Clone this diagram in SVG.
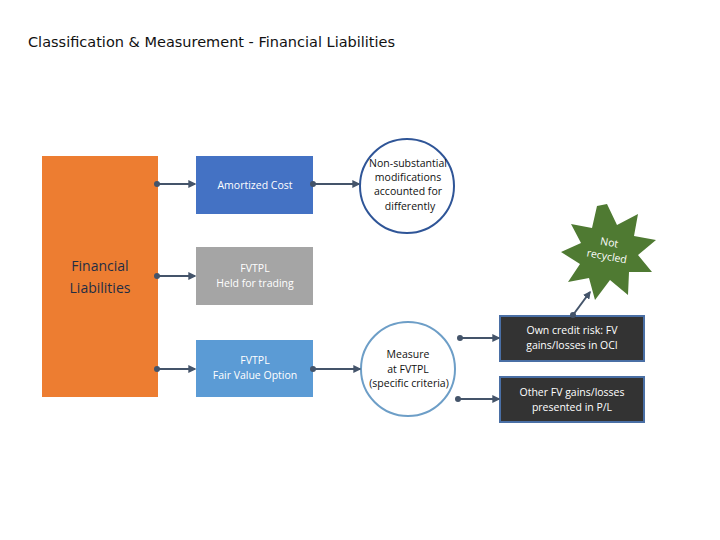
<svg xmlns="http://www.w3.org/2000/svg" width="720" height="540" viewBox="0 0 720 540">
<style>
text{font-family:"Open Sans","DejaVu Sans",sans-serif;font-size:10.5px;text-anchor:middle}
.w{fill:#fff}.k{fill:#111}
.c{stroke:#44546a;stroke-width:2;fill:none;marker-start:url(#dot);marker-end:url(#ar)}
</style>
<defs>
<marker id="dot" viewBox="0 0 6 6" refX="3" refY="3" markerWidth="3" markerHeight="3"><circle cx="3" cy="3" r="3" fill="#44546a"/></marker>
<marker id="ar" viewBox="0 0 6 6" refX="5" refY="3" markerWidth="4" markerHeight="4" orient="auto"><path d="M0,0L6,3L0,6z" fill="#44546a"/></marker>
</defs>
<rect width="720" height="540" fill="#fff"/>
<text x="28" y="47" style="text-anchor:start;font-family:'DejaVu Sans',sans-serif;font-size:14.5px" fill="#111">Classification &amp; Measurement - Financial Liabilities</text>
<g id="fl"><rect x="42" y="156" width="116" height="241" fill="#ed7d31"/><text x="100" y="271" style="font-size:14px" fill="#1f2d44">Financial</text><text x="100" y="293" style="font-size:14px" fill="#1f2d44">Liabilities</text></g>
<g id="ac"><rect x="196" y="156" width="117" height="58" fill="#4472c4"/><text x="255" y="189" class="w">Amortized Cost</text></g>
<g id="hft"><rect x="196" y="247" width="117" height="58" fill="#a5a5a5"/><text x="255" y="272" class="w">FVTPL</text><text x="255" y="287" class="w">Held for trading</text></g>
<g id="fvo"><rect x="196" y="340" width="117" height="57" fill="#5b9bd5"/><text x="255" y="364" class="w">FVTPL</text><text x="255" y="379" class="w">Fair Value Option</text></g>
<g id="c1"><circle cx="407" cy="186" r="47" fill="#fff" stroke="#2f5597" stroke-width="2"/><text x="408" y="167" class="k">Non-substantial</text><text x="408" y="181" class="k">modifications</text><text x="408" y="195" class="k">accounted for</text><text x="410" y="210" class="k">differently</text></g>
<g id="c2"><circle cx="408" cy="369" r="47" fill="#fff" stroke="#6d9ec7" stroke-width="2"/><text x="408" y="358" class="k">Measure</text><text x="408" y="373" class="k">at FVTPL</text><text x="409" y="387" class="k">(specific criteria)</text></g>
<g id="oci"><rect x="500" y="316" width="144" height="45" fill="#333" stroke="#4a6fa5" stroke-width="2"/><text x="572" y="334" class="w">Own credit risk: FV</text><text x="572" y="349" class="w">gains/losses in OCI</text></g>
<g id="pl"><rect x="500" y="377" width="144" height="45" fill="#333" stroke="#4a6fa5" stroke-width="2"/><text x="572" y="396" class="w">Other FV gains/losses</text><text x="572" y="411" class="w">presented in P/L</text></g>
<g id="star"><polygon fill="#4f7a32" points="607,204 617,225 638,214 634,236 656,240 638,255 652,272 629,272 628,295 610,280 595,300 589,278 568,282 580,264 561,252 581,243 571,224 592,228 597,206"/><text transform="translate(608,250) rotate(10)" class="w" style="font-size:10.5px"><tspan x="0" y="-4">Not</tspan><tspan x="0" y="10">recycled</tspan></text></g>
<g id="connectors">
<line class="c" x1="157" y1="184" x2="195" y2="184"/>
<line class="c" x1="157" y1="276" x2="195" y2="276"/>
<line class="c" x1="157" y1="369" x2="195" y2="369"/>
<line class="c" x1="313" y1="184" x2="359" y2="184"/>
<line class="c" x1="313" y1="369" x2="360" y2="369"/>
<line class="c" x1="460" y1="338" x2="499" y2="338"/>
<line class="c" x1="458" y1="399" x2="499" y2="399"/>
<line class="c" x1="573" y1="315" x2="590" y2="292"/>
</g>
</svg>
